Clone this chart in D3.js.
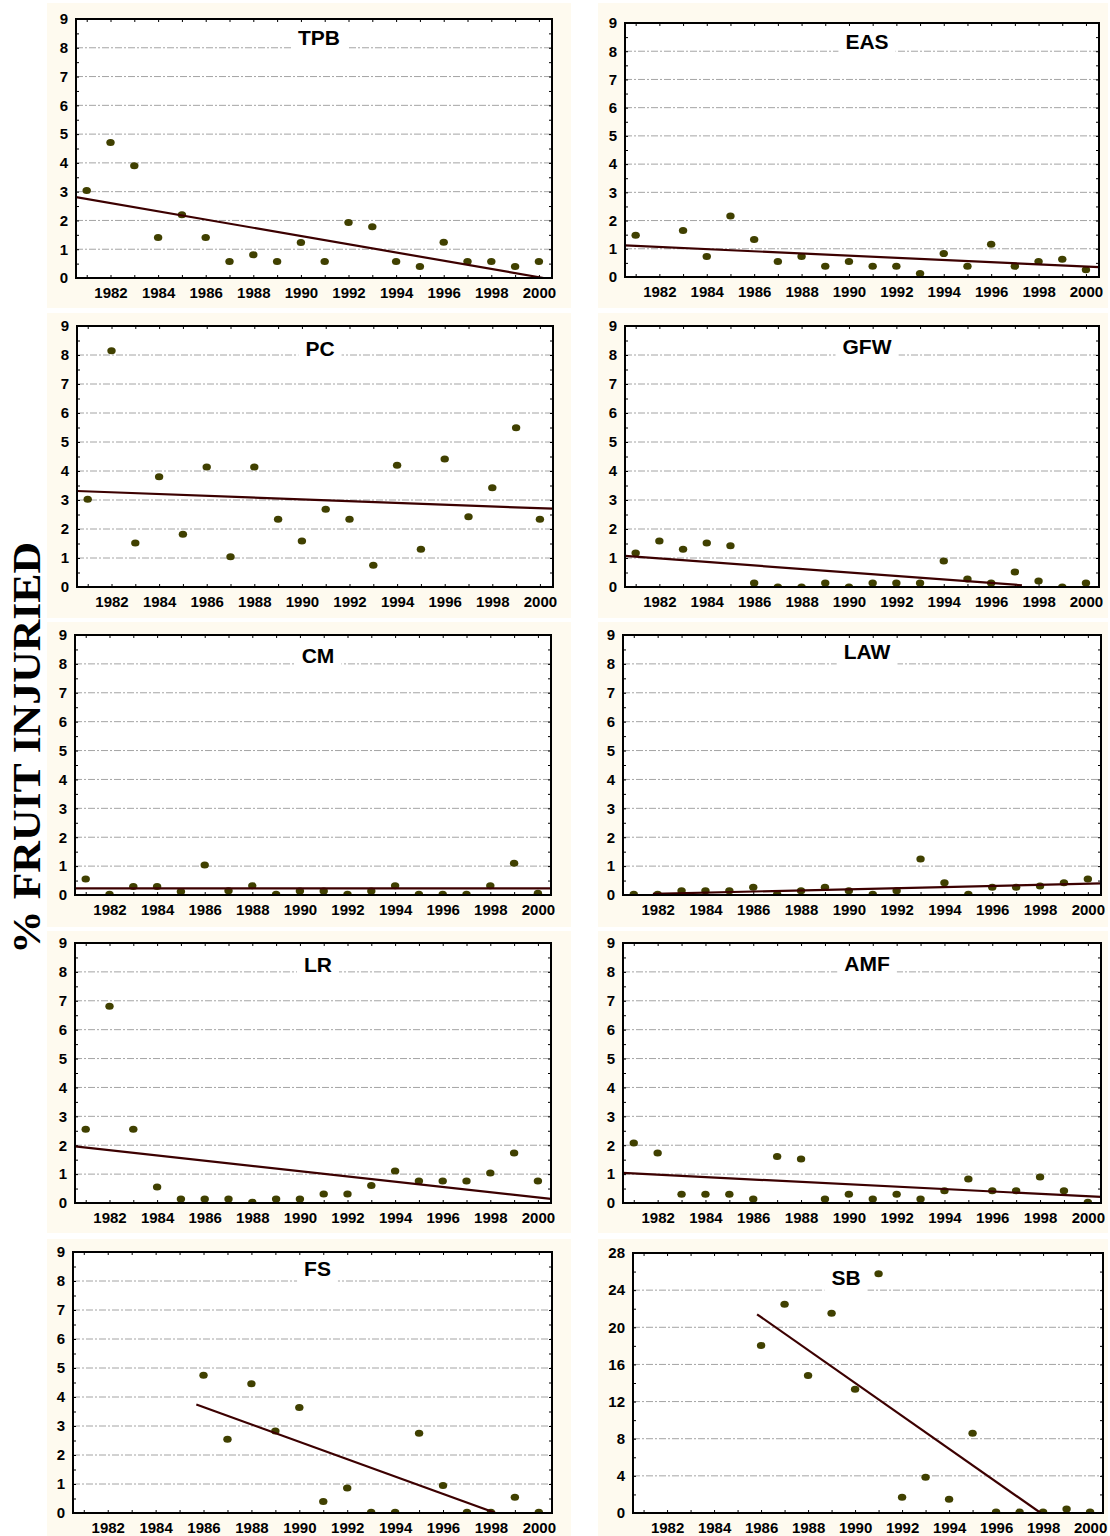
<!DOCTYPE html>
<html>
<head>
<meta charset="utf-8">
<script src="https://cdn.jsdelivr.net/npm/d3@7"></script>
<style>
  body { margin: 0; background: #fff; }
  svg { display: block; }
  .tick text { font-family: "Liberation Sans", Arial, sans-serif; font-weight: bold; font-size: 15px; fill: #000; }
</style>
</head>
<body>
<script>
// years on the x axis
const years = [1981, 1982, 1983, 1984, 1985, 1986, 1987, 1988, 1989, 1990,
               1991, 1992, 1993, 1994, 1995, 1996, 1997, 1998, 1999, 2000];
const yearTicks = [1982, 1984, 1986, 1988, 1990, 1992, 1994, 1996, 1998, 2000];
const pctTicks = [0, 1, 2, 3, 4, 5, 6, 7, 8, 9];
const sbTicks = [0, 4, 8, 12, 16, 20, 24, 28];

// % fruit injured, one value per year (null = no sample)
const tpb = [3.04, 4.71, 3.90, 1.41, 2.20, 1.41, 0.57, 0.81, 0.57, 1.23, 0.57, 1.93, 1.78, 0.57, 0.40, 1.24, 0.57, 0.57, 0.40, 0.57];
const eas = [1.48, null, 1.65, 0.73, 2.16, 1.33, 0.55, 0.73, 0.38, 0.55, 0.38, 0.38, 0.12, 0.83, 0.38, 1.16, 0.38, 0.55, 0.63, 0.26];
const pc  = [3.03, 8.15, 1.52, 3.80, 1.82, 4.14, 1.04, 4.14, 2.34, 1.59, 2.68, 2.34, 0.75, 4.20, 1.30, 4.41, 2.42, 3.42, 5.49, 2.34];
const gfw = [1.17, 1.59, 1.30, 1.52, 1.42, 0.14, 0.00, 0.00, 0.14, 0.00, 0.14, 0.14, 0.14, 0.90, 0.28, 0.14, 0.52, 0.21, 0.00, 0.14];
const cm  = [0.55, 0.03, 0.29, 0.29, 0.12, 1.04, 0.15, 0.32, 0.03, 0.14, 0.14, 0.03, 0.14, 0.32, 0.03, 0.03, 0.03, 0.32, 1.10, 0.06];
const law = [0.03, 0.03, 0.15, 0.15, 0.15, 0.27, 0.03, 0.15, 0.27, 0.15, 0.03, 0.15, 1.25, 0.42, 0.03, 0.27, 0.27, 0.31, 0.42, 0.55];
const lr  = [2.55, 6.81, 2.55, 0.55, 0.14, 0.14, 0.14, 0.03, 0.14, 0.14, 0.31, 0.31, 0.61, 1.11, 0.76, 0.76, 0.76, 1.04, 1.73, 0.76];
const amf = [2.08, 1.73, 0.30, 0.30, 0.30, 0.14, 1.61, 1.52, 0.14, 0.30, 0.14, 0.30, 0.14, 0.42, 0.83, 0.42, 0.42, 0.90, 0.42, 0.03];
const fs  = [null, null, null, null, null, 4.75, 2.54, 4.46, 2.83, 3.64, 0.40, 0.86, 0.03, 0.03, 2.75, 0.95, 0.03, 0.03, 0.54, 0.03];
const sb  = [null, null, null, null, null, 18.05, 22.47, 14.82, 21.50, 13.32, 25.77, 1.69, 3.84, 1.47, 8.58, 0.11, 0.11, 0.11, 0.43, 0.11];

// fitted trend lines: [year, value] at start and end
const tpbTrend = [[1980.55, 2.81], [2000.2, 0]];
const easTrend = [[1980.55, 1.12], [2000.55, 0.35]];
const pcTrend  = [[1980.55, 3.31], [2000.55, 2.70]];
const gfwTrend = [[1980.55, 1.07], [1997.3, 0.06]];
const cmTrend  = [[1980.55, 0.23], [2000.55, 0.23]];
const lawTrend = [[1981.8, 0.04], [2000.55, 0.40]];
const lrTrend  = [[1980.55, 1.96], [2000.55, 0.14]];
const amfTrend = [[1980.55, 1.04], [2000.55, 0.21]];
const fsTrend  = [[1985.7, 3.74], [1998.2, 0]];
const sbTrend  = [[1985.83, 21.4], [1997.9, 0]];

// layout: plot boxes [left, top, right, bottom]
const panels = [
  { name: 'TPB', values: tpb, trend: tpbTrend, ticks: pctTicks, box: [76, 19, 552, 278], dy: 26 },
  { name: 'EAS', values: eas, trend: easTrend, ticks: pctTicks, box: [625, 23, 1099, 277], dy: 26 },
  { name: 'PC',  values: pc,  trend: pcTrend,  ticks: pctTicks, box: [77, 326, 553, 587], dy: 30 },
  { name: 'GFW', values: gfw, trend: gfwTrend, ticks: pctTicks, box: [625, 326, 1099, 587], dy: 28 },
  { name: 'CM',  values: cm,  trend: cmTrend,  ticks: pctTicks, box: [75, 635, 551, 895], dy: 28 },
  { name: 'LAW', values: law, trend: lawTrend, ticks: pctTicks, box: [623, 635, 1101, 895], dy: 24 },
  { name: 'LR',  values: lr,  trend: lrTrend,  ticks: pctTicks, box: [75, 943, 551, 1203], dy: 29 },
  { name: 'AMF', values: amf, trend: amfTrend, ticks: pctTicks, box: [623, 943, 1101, 1203], dy: 28 },
  { name: 'FS',  values: fs,  trend: fsTrend,  ticks: pctTicks, box: [73, 1252, 552, 1513], dy: 24 },
  { name: 'SB',  values: sb,  trend: sbTrend,  ticks: sbTicks,  box: [633, 1253, 1103, 1513], dy: 32, dx: -22 }
];

const cream = '#fefaef';
const colBands = [[47, 571], [598, 1108]];
const rowBands = [[3, 308], [313, 618], [622, 927], [931, 1233], [1239, 1536]];

const svg = d3.select('body').append('svg')
    .attr('width', 1110)
    .attr('height', 1536);

// cream panel backgrounds
rowBands.forEach(r => {
  colBands.forEach(c => {
    svg.append('rect')
      .attr('x', c[0]).attr('y', r[0])
      .attr('width', c[1] - c[0]).attr('height', r[1] - r[0])
      .attr('fill', cream);
  });
});

panels.forEach((p, i) => {
  const [x0, y0, x1, y1] = p.box;
  const ymax = d3.max(p.ticks);

  const x = d3.scaleLinear().domain([1980.55, 2000.55]).range([x0, x1]);
  const y = d3.scaleLinear().domain([0, ymax]).range([y1, y0]);

  const g = svg.append('g');

  g.append('rect')
    .attr('x', x0).attr('y', y0)
    .attr('width', x1 - x0).attr('height', y1 - y0)
    .attr('fill', '#fff');

  g.append('clipPath').attr('id', 'clip' + i)
    .append('rect')
      .attr('x', x0).attr('y', y0)
      .attr('width', x1 - x0).attr('height', y1 - y0);

  // dash-dot gridlines
  g.selectAll('.grid')
    .data(p.ticks.filter(t => t > 0 && t < ymax))
    .enter().append('line')
      .attr('x1', x0).attr('x2', x1)
      .attr('y1', d => y(d)).attr('y2', d => y(d))
      .attr('stroke', '#a4a4a4')
      .attr('stroke-width', 1)
      .attr('stroke-dasharray', '7,2,2,2');

  // title with white box
  const tx = (x0 + x1) / 2 + (p.dx || 5);
  const title = g.append('text')
    .attr('x', tx).attr('y', y0 + p.dy)
    .attr('text-anchor', 'middle')
    .attr('font-family', '"Liberation Sans", Arial, sans-serif')
    .attr('font-weight', 'bold')
    .attr('font-size', 21)
    .text(p.name);
  const bb = title.node().getBBox();
  g.insert('rect', 'text')
    .attr('x', bb.x - 7).attr('y', bb.y)
    .attr('width', bb.width + 14).attr('height', bb.height + 2)
    .attr('fill', '#fff');

  // inner tick marks
  g.append('g').attr('transform', `translate(0,${y1})`)
    .call(d3.axisBottom(x).tickValues(years).tickSize(-3).tickFormat(''))
    .call(a => a.select('.domain').remove());
  g.append('g').attr('transform', `translate(0,${y0})`)
    .call(d3.axisTop(x).tickValues(years).tickSize(-3).tickFormat(''))
    .call(a => a.select('.domain').remove());
  const step = p.ticks[1] - p.ticks[0];
  const minor = d3.range(0, ymax + 0.001, step / 2);
  g.append('g').attr('transform', `translate(${x0},0)`)
    .call(d3.axisLeft(y).tickValues(minor).tickSize(-3).tickFormat(''))
    .call(a => a.select('.domain').remove());
  g.append('g').attr('transform', `translate(${x1},0)`)
    .call(d3.axisRight(y).tickValues(minor).tickSize(-3).tickFormat(''))
    .call(a => a.select('.domain').remove());

  // labels
  g.append('g').attr('transform', `translate(0,${y1})`)
    .call(d3.axisBottom(x).tickValues(yearTicks).tickSize(0).tickPadding(9).tickFormat(d3.format('d')))
    .call(a => a.select('.domain').remove());
  g.append('g').attr('transform', `translate(${x0},0)`)
    .call(d3.axisLeft(y).tickValues(p.ticks).tickSize(0).tickPadding(8))
    .call(a => a.select('.domain').remove());

  const plot = g.append('g').attr('clip-path', `url(#clip${i})`);

  // points
  plot.selectAll('ellipse')
    .data(years.map((yr, k) => ({ yr, v: p.values[k] })).filter(d => d.v !== null))
    .enter().append('ellipse')
      .attr('cx', d => x(d.yr))
      .attr('cy', d => y(d.v))
      .attr('rx', 4.2).attr('ry', 3.5)
      .attr('fill', '#404000');

  // trend line
  plot.append('path')
    .datum(p.trend)
    .attr('d', d3.line().x(d => x(d[0])).y(d => y(d[1])))
    .attr('fill', 'none')
    .attr('stroke', '#3c0000')
    .attr('stroke-width', 2.2);

  // frame
  g.append('rect')
    .attr('x', x0).attr('y', y0)
    .attr('width', x1 - x0).attr('height', y1 - y0)
    .attr('fill', 'none')
    .attr('stroke', '#000')
    .attr('stroke-width', 2);
});

// y axis title
svg.append('text')
  .attr('transform', 'translate(40,748) rotate(-90)')
  .attr('text-anchor', 'middle')
  .attr('font-family', '"Liberation Serif", "Times New Roman", serif')
  .attr('font-weight', 'bold')
  .attr('font-size', 39)
  .attr('textLength', 412)
  .attr('lengthAdjust', 'spacingAndGlyphs')
  .text('% FRUIT INJURIED');
</script>
</body>
</html>
